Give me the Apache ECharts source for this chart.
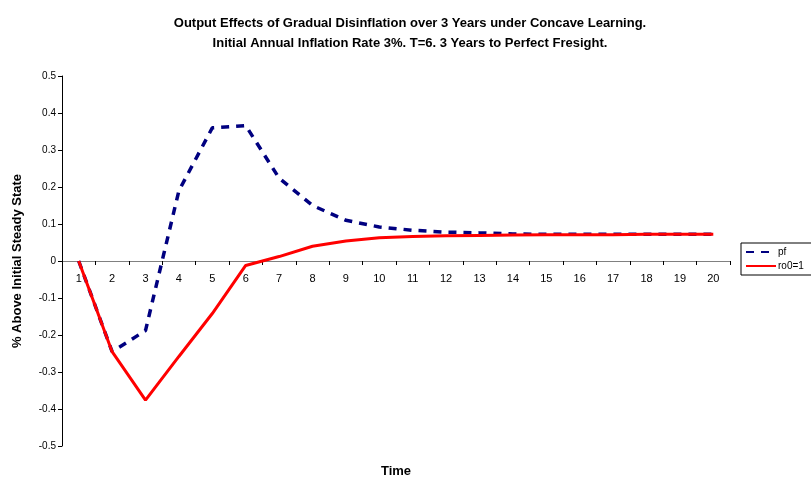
<!DOCTYPE html>
<html>
<head>
<meta charset="utf-8">
<script src="https://cdn.jsdelivr.net/npm/echarts@6/dist/echarts.min.js"></script>
<style>
  html, body { margin: 0; padding: 0; background: #fff; }
  #chart { width: 811px; height: 483px; }
</style>
</head>
<body>
<div id="chart"></div>
<script>
const time = ["1","2","3","4","5","6","7","8","9","10","11","12","13","14","15","16","17","18","19","20"];
const pf = [0, -0.245, -0.188, 0.19, 0.36, 0.366, 0.224, 0.15, 0.11, 0.092, 0.083, 0.078, 0.076, 0.073, 0.072, 0.072, 0.072, 0.072, 0.072, 0.072];
const ro0 = [0, -0.245, -0.376, -0.258, -0.142, -0.012, 0.012, 0.04, 0.054, 0.063, 0.066, 0.068, 0.069, 0.07, 0.071, 0.071, 0.071, 0.072, 0.072, 0.072];

const chart = echarts.init(document.getElementById("chart"));

const font = "Arial, 'Liberation Sans', sans-serif";

const option = {
  animation: false,
  title: {
    text: "Output Effects of Gradual Disinflation over 3 Years under Concave Learning.\nInitial Annual Inflation Rate 3%. T=6. 3 Years to Perfect Fresight.",
    left: 405,
    textAlign: "center",
    top: 8,
    textStyle: { fontFamily: font, fontSize: 13, fontWeight: "bold", color: "#000", lineHeight: 20 }
  },
  legend: {
    orient: "vertical",
    left: 741,
    top: 243,
    padding: [4, 30, 4, 4],
    itemGap: 4,
    itemWidth: 30,
    itemHeight: 10,
    borderColor: "#000",
    borderWidth: 1,
    itemStyle: { opacity: 0 },
    textStyle: { fontFamily: font, fontSize: 10, color: "#000", padding: [0, 0, 0, -3] },
    data: ["pf", "ro0=1"]
  },
  grid: { left: 62, right: 81, top: 76, bottom: 37, outerBoundsMode: "none" },
  xAxis: {
    type: "category",
    data: time,
    name: "Time",
    nameLocation: "middle",
    nameGap: 204,
    offset: -185,
    nameTextStyle: { fontFamily: font, fontSize: 13, fontWeight: "bold", color: "#000" },
    axisLine: { onZero: false, lineStyle: { color: "#808080", width: 1 } },
    axisTick: { show: true, length: 4, lineStyle: { color: "#000" } },
    axisLabel: { interval: 0, fontFamily: font, fontSize: 11, color: "#000", margin: 12 },
    splitLine: { show: false }
  },
  yAxis: {
    type: "value",
    min: -0.5,
    max: 0.5,
    interval: 0.1,
    name: "% Above Initial Steady State",
    nameLocation: "middle",
    nameGap: 38,
    nameTextStyle: { fontFamily: font, fontSize: 13, fontWeight: "bold", color: "#000" },
    axisLine: { show: true, lineStyle: { color: "#000", width: 1 } },
    axisTick: { show: true, length: 4, lineStyle: { color: "#000" } },
    axisLabel: {
      fontFamily: font, fontSize: 10, color: "#000", margin: 6,
      formatter: v => (Math.round(v * 10) / 10).toString()
    },
    splitLine: { show: false }
  },
  series: [
    {
      name: "pf",
      type: "line",
      data: pf,
      symbol: "none",
      color: "#000080",
      lineStyle: { color: "#000080", width: 3.5, type: [8, 7] }
    },
    {
      name: "ro0=1",
      type: "line",
      data: ro0,
      symbol: "none",
      color: "#ff0000",
      lineStyle: { color: "#ff0000", width: 3 }
    }
  ]
};

chart.setOption(option);
</script>
</body>
</html>
